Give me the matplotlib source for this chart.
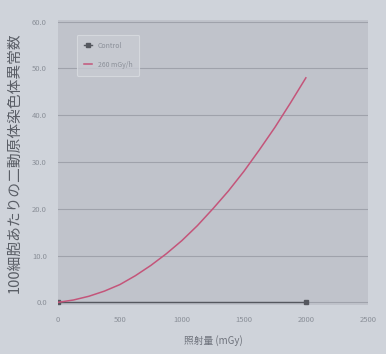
import numpy as np
import matplotlib
matplotlib.use('Agg')
import matplotlib.pyplot as plt

plt.rcParams['font.family'] = ['Noto Sans CJK JP', 'DejaVu Sans']

# values
dose = [0, 125, 250, 375, 500, 625, 750, 875, 1000, 1125, 1250, 1375, 1500, 1625, 1750, 1875, 2000]
aberr_260 = [0.0, 0.5, 1.3, 2.4, 3.8, 5.7, 7.9, 10.4, 13.2, 16.4, 20.0, 23.8, 28.0, 32.6, 37.4, 42.6, 48.0]
ctrl_dose = [0, 2000]
ctrl_vals = [0.0, 0.0]

xticks = [0, 500, 1000, 1500, 2000, 2500]
yticks = [0, 10, 20, 30, 40, 50, 60]

bg = '#cfd3da'
panel = '#c0c3cb'
txt = '#8a8f98'
grid = '#9fa2ab'

fig = plt.figure(figsize=(3.86, 3.54), dpi=100, facecolor=bg)
ax = fig.add_axes([0.150, 0.138, 0.803, 0.806], facecolor=panel)

ax.plot(ctrl_dose, ctrl_vals, color='#55585f', lw=1.0, marker='s', ms=2.5, label='Control', zorder=3)
ax.plot(dose, aberr_260, color='#c4557a', lw=1.1, label='260 mGy/h', zorder=4)

ax.set_xlim(0, 2500)
ax.set_ylim(-0.6, 60.4)
ax.set_xticks(xticks)
ax.set_yticks(yticks)
ax.set_yticklabels(['%.1f' % v for v in yticks])
ax.tick_params(colors=txt, labelsize=5.5, length=0, pad=8)
ax.yaxis.grid(True, color=grid, lw=0.8)
ax.set_axisbelow(True)
for s in ax.spines.values():
    s.set_visible(False)

ax.set_xlabel('照射量 (mGy)', color='#6f737c', fontsize=7, labelpad=8)
ax.set_ylabel('100細胞あたりの二動原体染色体異常数', color='#5a5e66', fontsize=10.6, labelpad=7)

leg = ax.legend(loc='upper left', bbox_to_anchor=(0.05, 0.96), fontsize=5, frameon=True,
                facecolor='#c8cbd2', edgecolor='#dadde2', labelcolor=txt, handlelength=1.2,
                borderpad=1.0, labelspacing=1.6)
leg.get_frame().set_linewidth(0.8)

fig.savefig('out.png', dpi=100, facecolor=bg)
